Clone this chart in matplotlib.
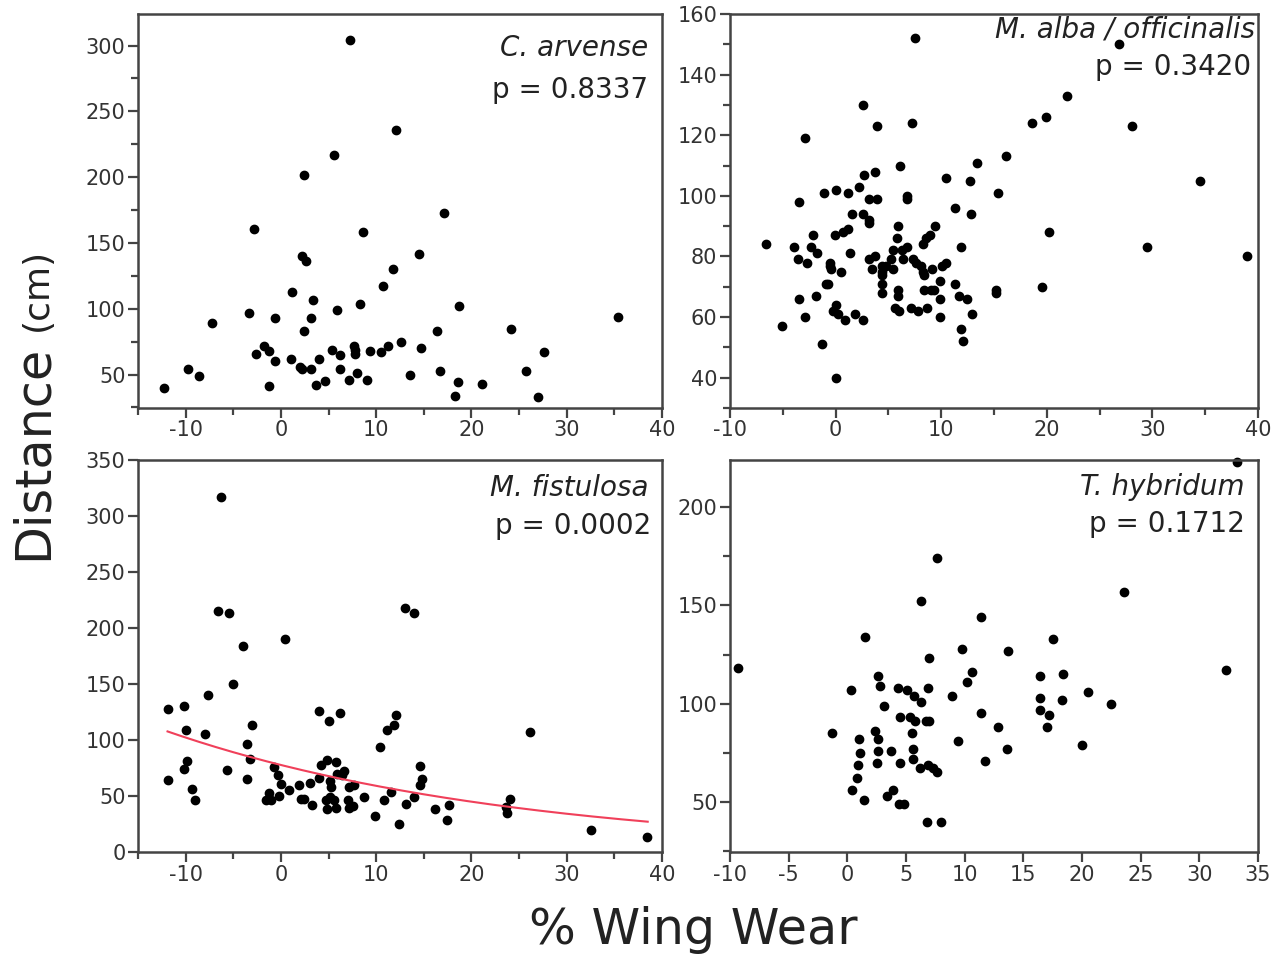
import numpy as np
import matplotlib
matplotlib.use("Agg")
import matplotlib.pyplot as plt
from matplotlib.ticker import MultipleLocator

plt.rcParams["axes.unicode_minus"] = False

#---datos---#
ca_x = [7.2, 12.1, 5.6, 2.4, 17.1, -2.8, 8.6, 2.2, 2.6, 14.5, 11.8, 10.7, 1.2, 3.4, 18.7,
        8.3, 5.9, -3.4, -7.2, -0.6, 3.2, 2.4, 24.2, 35.4, 16.4, 12.6, 11.2, 10.5, 9.3, 14.7,
        27.6, -2.6, -1.8, -1.3, -0.6, 1.1, 2.0, 2.2, 3.2, 4.0, 5.4, 6.2, 6.2, 7.7, 7.8,
        7.8, 8.0, 7.1, 9.0, 4.6, 3.7, -1.3, -12.3, -9.7, -8.6, 25.7, 16.7, 13.6, 18.6, 21.1,
        18.3, 27.0]
ca_y = [304, 236, 217, 202, 173, 161, 158, 140, 136, 142, 130, 117, 113, 107, 102,
        104, 99, 97, 89, 93, 93, 83, 85, 94, 83, 75, 72, 67, 68, 70,
        67, 66, 72, 68, 60, 62, 56, 54, 54, 62, 69, 65, 54, 72, 69,
        66, 51, 46, 46, 45, 42, 41, 40, 54, 49, 53, 53, 50, 44, 43,
        34, 33]

ma_x = [7.5, 2.6, 7.2, 3.9, -2.9, 6.1, 3.7, 2.7, 2.2, 1.2, 0.0, -1.1, -3.5, 3.2, 3.9,
        6.8, 6.8, 10.5, 12.7, 11.3, 12.8, 13.4, 1.6, 2.6, 3.2, 26.8, 21.9, 18.6, 19.9, 28.1,
        16.1, 15.4, 34.5, 20.2, 29.5, 39.0, 19.5, 15.2, 15.2, 12.9,
        -6.6, -3.9, -3.6, -2.7, -2.1, -2.3, -1.8, -3.5, -2.9, -5.1, -1.9, -1.3, 0.0, -0.9, -0.7,
        -0.5, -0.5, -0.4, 0.5, -0.1, 0.7, 1.2, 1.4, 0.0, -0.2, 0.2, 0.9, 1.8, 2.6, 3.2,
        3.2, 3.4, 3.7, 4.4, 4.4, 4.4, 4.4, 4.4, 4.8, 5.4, 5.2, 5.9, 5.8, 5.4, 5.9,
        5.9, 5.6, 6.0, 6.3, 6.8, 6.4, 7.1, 7.3, 7.6, 7.8, 8.1, 8.3, 8.4, 8.3, 8.6,
        8.9, 9.4, 8.4, 9.0, 9.3, 8.7, 9.1, 9.9, 9.9, 9.9, 10.1, 10.5, 11.3, 11.9, 11.7,
        12.4, 11.9, 12.1]
ma_y = [152, 130, 124, 123, 119, 110, 108, 107, 103, 101, 102, 101, 98, 99, 99,
        100, 99, 106, 105, 96, 94, 111, 94, 94, 92, 150, 133, 124, 126, 123,
        113, 101, 105, 88, 83, 80, 70, 69, 68, 61,
        84, 83, 79, 78, 87, 83, 81, 66, 60, 57, 67, 51, 40, 71, 71,
        78, 77, 76, 75, 87, 88, 89, 81, 64, 62, 61, 59, 61, 59, 91,
        79, 76, 80, 77, 75, 74, 71, 68, 77, 76, 79, 90, 86, 82, 69,
        67, 63, 62, 82, 83, 79, 63, 79, 78, 62, 77, 75, 74, 84, 86,
        87, 90, 69, 69, 69, 63, 76, 72, 66, 60, 77, 78, 71, 83, 67,
        66, 56, 52]

mf_x = [-6.3, -6.6, -5.5, -4.0, 0.4, -5.0, -7.7, -11.9, -10.2, -10.0, -8.0, -3.0, -3.6, -3.2, -9.9,
        -10.2, -11.8, -5.7, -3.6, -9.3, -9.0, -0.7, -0.3, 0.0, -1.3, -1.6, -1.0, -0.2, 0.9, 1.9,
        2.1, 2.4, 3.1, 3.3, 4.0, 4.2, 4.8, 4.0, 5.1, 6.2, 5.8, 5.2, 5.3, 4.7, 4.8,
        5.2, 5.6, 5.8, 5.9, 6.4, 6.6, 7.1, 7.0, 7.1, 7.6, 7.7, 8.7, 9.9, 10.4, 12.1,
        11.9, 11.1, 10.8, 11.6, 12.4, 13.1, 14.0, 14.6, 14.8, 14.6, 16.2, 17.6, 17.4, 26.1, 24.0,
        23.6, 23.7, 32.5, 38.4, 13.0, 14.0]
mf_y = [317, 215, 213, 184, 190, 150, 140, 128, 130, 109, 105, 113, 96, 83, 81,
        74, 64, 73, 65, 56, 46, 76, 69, 61, 53, 46, 46, 50, 55, 60,
        47, 47, 62, 42, 66, 78, 82, 126, 117, 124, 80, 63, 58, 46, 38,
        49, 46, 39, 70, 69, 72, 58, 46, 39, 41, 60, 49, 32, 94, 122,
        113, 109, 46, 54, 25, 43, 49, 77, 65, 60, 38, 42, 29, 107, 47,
        40, 35, 20, 13, 218, 213]
# ajuste exponencial y = a*exp(b*x)
mf_a = 77.7
mf_b = -0.0274
mf_fit_range = [-11.9, 38.5]

th_x = [33.2, 23.6, 17.5, 32.3, -9.3, 11.4, 13.7, 10.6, 10.2, 9.8, 16.4, 18.4, 16.4, 16.4, 18.3,
        17.2, 17.0, 20.5, 22.5, 20.0, 11.4, 12.8, 13.6, 9.4, 11.7, 8.9, 7.0, 6.3, 7.6, 1.5,
        0.3, -1.3, 1.0, 1.1, 0.9, 0.8, 0.4, 1.4, 2.6, 2.8, 2.4, 2.6, 2.6, 2.5, 3.1,
        3.7, 3.4, 3.9, 4.3, 4.5, 4.5, 4.4, 4.8, 5.1, 5.7, 5.3, 5.5, 5.6, 5.8, 6.3,
        6.7, 7.0, 6.9, 6.2, 6.9, 7.3, 7.6, 6.8, 8.0, 5.6]
th_y = [223, 157, 133, 117, 118, 144, 127, 116, 111, 128, 114, 115, 103, 97, 102,
        94, 88, 106, 100, 79, 95, 88, 77, 81, 71, 104, 123, 152, 174, 134,
        107, 85, 82, 75, 69, 62, 56, 51, 114, 109, 86, 82, 76, 70, 99,
        76, 53, 56, 108, 93, 70, 49, 49, 107, 104, 93, 85, 77, 91, 101,
        91, 91, 108, 67, 69, 67, 65, 40, 40, 72]

W, H = 1271, 955
gris = "#444444"


def caja(x0, y0, x1, y1):
    return [x0 / W, 1 - y1 / H, (x1 - x0) / W, (y1 - y0) / H]


def estilo(ax, xlim, ylim, xmaj, ymaj, xmin=None, ymin=None):
    ax.set_xlim(xlim)
    ax.set_ylim(ylim)
    ax.xaxis.set_major_locator(MultipleLocator(xmaj))
    ax.yaxis.set_major_locator(MultipleLocator(ymaj))
    if xmin:
        ax.xaxis.set_minor_locator(MultipleLocator(xmin))
    if ymin:
        ax.yaxis.set_minor_locator(MultipleLocator(ymin))
    for s in ax.spines.values():
        s.set_color(gris)
        s.set_linewidth(1.8)
    ax.tick_params(which="both", direction="out", color=gris, width=1.6,
                   top=False, right=False, labelsize=15, labelcolor="#333333", pad=2)
    ax.tick_params(which="major", length=7)
    ax.tick_params(which="minor", length=5)


fig = plt.figure(figsize=(W / 100, H / 100), dpi=100)

ax1 = fig.add_axes(caja(138, 14, 662, 408))
ax1.plot(ca_x, ca_y, "o", color="black", ms=6)
estilo(ax1, (-15, 40), (24.6, 324), 10, 50, 5, 25)

ax2 = fig.add_axes(caja(730, 14, 1258, 408))
ax2.plot(ma_x, ma_y, "o", color="black", ms=6)
estilo(ax2, (-10, 40), (30, 160), 10, 20, 5, 10)

ax3 = fig.add_axes(caja(138, 460, 662, 852))
ax3.plot(mf_x, mf_y, "o", color="black", ms=6)
xf = np.linspace(mf_fit_range[0], mf_fit_range[1], 200)
ax3.plot(xf, mf_a * np.exp(mf_b * xf), color="#f0405a", lw=1.5)
estilo(ax3, (-15, 40), (0, 350), 10, 50, 5, None)

ax4 = fig.add_axes(caja(730, 460, 1258, 852))
ax4.plot(th_x, th_y, "o", color="black", ms=6, clip_on=False)
estilo(ax4, (-10, 35), (24.5, 224), 5, 50, None, 25)

# etiquetas de cada panel
etiquetas = [
    (648, 48, 648, 90, "C. arvense", "p = 0.8337"),
    (1255, 30, 1251, 67, "M. alba / officinalis", "p = 0.3420"),
    (648, 488, 651, 526, "M. fistulosa", "p = 0.0002"),
    (1245, 487, 1245, 524, "T. hybridum", "p = 0.1712"),
]
for x1, y1, x2, y2, especie, p in etiquetas:
    fig.text(x1 / W, 1 - y1 / H, especie, ha="right", va="center",
             fontsize=20, style="italic", color="#222222")
    fig.text(x2 / W, 1 - y2 / H, p, ha="right", va="center",
             fontsize=20, color="#222222")

fig.text(33 / W, 1 - 452 / H, "Distance", rotation=90, ha="center", va="center",
         fontsize=35.5, color="#222222")
fig.text(37 / W, 1 - 289 / H, "(cm)", rotation=90, ha="center", va="center",
         fontsize=26, color="#222222")
fig.text(693 / W, 1 - 930 / H, "% Wing Wear", ha="center", va="center",
         fontsize=35.5, color="#222222")

fig.savefig("out.png", dpi=100)
